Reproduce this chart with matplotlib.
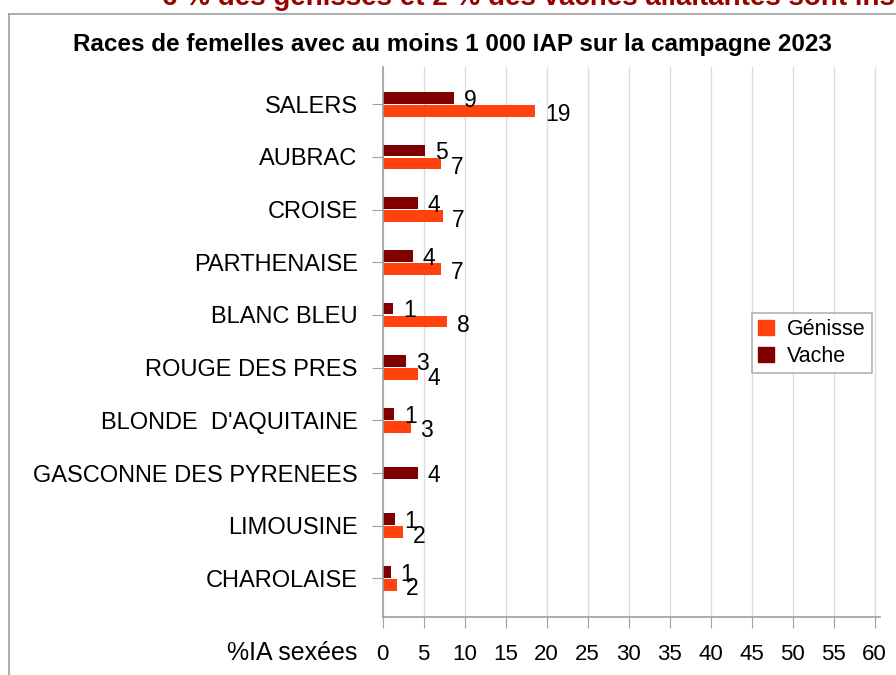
import matplotlib
matplotlib.use("Agg")
import matplotlib.pyplot as plt
import numpy as np
from matplotlib.patches import Patch
from matplotlib.lines import Line2D

plt.rcParams["font.family"] = ["Liberation Sans", "DejaVu Sans"]

# Data
races = ["SALERS", "AUBRAC", "CROISE", "PARTHENAISE", "BLANC BLEU",
         "ROUGE DES PRES", "BLONDE  D'AQUITAINE", "GASCONNE DES PYRENEES",
         "LIMOUSINE", "CHAROLAISE"]
genisse = [18.6, 7.1, 7.3, 7.1, 7.9, 4.3, 3.4, None, 2.5, 1.7]
vache = [8.7, 5.2, 4.3, 3.7, 1.3, 2.9, 1.4, 4.3, 1.45, 1.0]
x_ticks = list(range(0, 61, 5))

title = "Races de femelles avec au moins 1 000 IAP sur la campagne 2023"
top_title = "6 % des génisses et 2 % des vaches allaitantes sont inséminées en semence sexée"

C_GEN = "#ff420e"
C_VAC = "#800000"
GRAY = "#a0a0a0"
W, H = 896, 675

fig = plt.figure(figsize=(W / 100, H / 100), dpi=100)
ax = fig.add_axes([382.7 / W, 1 - 616.7 / H, (880 - 382.7) / W, (616.7 - 67) / H])

pos = np.arange(len(races))
bh = 0.22
off = 0.125
for i, (g, v) in enumerate(zip(genisse, vache)):
    if g is None:
        yv = pos[i]
    else:
        yv = pos[i] - off
        yg = pos[i] + off
        ax.barh(yg, g, height=bh, color=C_GEN)
        ax.annotate(f"{round(g)}", (g, yg), xytext=(7, -1), textcoords="offset points",
                    ha="left", va="center_baseline", fontsize=16.5)
    ax.barh(yv, v, height=bh, color=C_VAC)
    ax.annotate(f"{round(v)}", (v, yv), xytext=(7, 0), textcoords="offset points",
                ha="left", va="center_baseline", fontsize=16.5)

ax.set_xlim(0, 60.65)
ax.set_ylim(9.728, -0.708)
ax.set_xticks(x_ticks)
ax.set_yticks(pos)
ax.set_yticklabels(races, fontsize=17)
ax.tick_params(axis="x", labelsize=16, length=8, color=GRAY, pad=12)
ax.tick_params(axis="y", length=8, color=GRAY, pad=10)
ax.xaxis.grid(True, color="#dddddd", linewidth=1)
ax.set_axisbelow(True)
for s in ["top", "right"]:
    ax.spines[s].set_visible(False)
for s in ["left", "bottom"]:
    ax.spines[s].set_color(GRAY)
    ax.spines[s].set_linewidth(1.2)

fig.text(357 / W, 1 - 653 / H, "%IA sexées", ha="right", va="center", fontsize=18)
fig.text(452 / W, 1 - 45 / H, title, ha="center", va="center", fontsize=17.5, fontweight="bold")
fig.text(162 / W, 1 - 5 / H, top_title, ha="left", va="baseline", fontsize=20,
         fontweight="bold", color="#990000")

# outer chart frame
fig.add_artist(Line2D([8.5 / W, 8.5 / W], [0, 1 - 13.5 / H], transform=fig.transFigure,
                      color=GRAY, linewidth=1.2))
fig.add_artist(Line2D([8.5 / W, 1], [1 - 13.5 / H, 1 - 13.5 / H], transform=fig.transFigure,
                      color=GRAY, linewidth=1.2))

handles = [Patch(color=C_GEN, label="Génisse"), Patch(color=C_VAC, label="Vache")]
leg = fig.legend(handles=handles, loc="upper left", bbox_to_anchor=(752 / W, 1 - 313 / H),
                 fontsize=15.5, frameon=True, fancybox=False, handlelength=0.7, handleheight=0.7,
                 handletextpad=0.6, borderpad=0.3, labelspacing=0.25, borderaxespad=0)
leg.get_frame().set_edgecolor(GRAY)
leg.get_frame().set_linewidth(1.2)

fig.savefig("out.png", dpi=100)
